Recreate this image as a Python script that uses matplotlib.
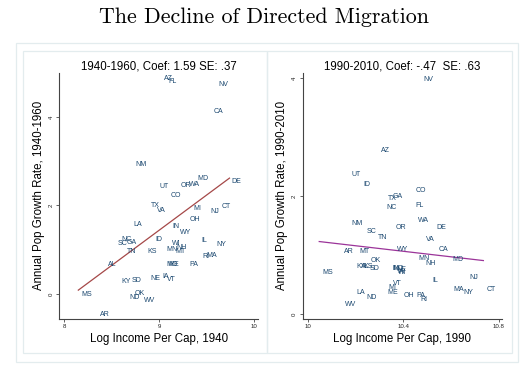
import numpy as np
import matplotlib.pyplot as plt
from matplotlib.patches import Rectangle

# --- datos ---
estados_40 = ['AZ', 'FL', 'NV', 'CA', 'NM', 'MD', 'DE', 'UT', 'OR', 'WA', 'CO', 'TX',
              'VA', 'MI', 'NJ', 'CT', 'LA', 'OH', 'IN', 'WY', 'ID', 'IL', 'NY', 'NC',
              'SC', 'GA', 'WI', 'NH', 'TN', 'KS', 'MN', 'MT', 'RI', 'MA', 'AL', 'PA',
              'MO', 'ME', 'KY', 'SD', 'NE', 'IA', 'VT', 'MS', 'ND', 'OK', 'WV', 'AR']
ingreso_40 = [9.10, 9.14, 9.67, 9.62, 8.81, 9.46, 9.81, 9.05, 9.28, 9.37, 9.18, 8.96,
              9.02, 9.40, 9.59, 9.71, 8.77, 9.38, 9.18, 9.28, 9.00, 9.48, 9.65, 8.66,
              8.61, 8.71, 9.18, 9.24, 8.71, 8.93, 9.14, 9.22, 9.49, 9.55, 8.51, 9.36,
              9.14, 9.15, 8.65, 8.76, 8.96, 9.07, 9.13, 8.24, 8.74, 8.80, 8.90, 8.43]
crec_40 = [4.87, 4.80, 4.74, 4.13, 2.93, 2.62, 2.55, 2.43, 2.45, 2.47, 2.23, 2.00,
           1.89, 1.93, 1.87, 1.98, 1.57, 1.68, 1.53, 1.39, 1.24, 1.20, 1.12, 1.23,
           1.14, 1.16, 1.14, 1.06, 0.97, 0.97, 1.00, 0.97, 0.85, 0.87, 0.67, 0.67,
           0.67, 0.67, 0.29, 0.31, 0.35, 0.40, 0.33, 0.00, -0.07, 0.01, -0.15, -0.46]

estados_90 = ['NV', 'AZ', 'UT', 'ID', 'CO', 'GA', 'TX', 'NC', 'FL', 'NM', 'WA', 'SC',
              'OR', 'DE', 'TN', 'VA', 'AR', 'MT', 'WY', 'CA', 'MN', 'MD', 'NH', 'OK',
              'KY', 'KS', 'AL', 'SD', 'IN', 'MO', 'NE', 'WI', 'IA', 'MS', 'NJ', 'IL',
              'VT', 'MI', 'ME', 'LA', 'ND', 'OH', 'PA', 'RI', 'MA', 'NY', 'CT', 'WV']
ingreso_90 = [10.504, 10.326, 10.204, 10.248, 10.472, 10.375, 10.354, 10.352, 10.469, 10.206, 10.486, 10.269,
              10.392, 10.560, 10.314, 10.515, 10.174, 10.239, 10.396, 10.567, 10.488, 10.629, 10.515, 10.283,
              10.225, 10.252, 10.242, 10.280, 10.368, 10.380, 10.390, 10.395, 10.390, 10.084, 10.695, 10.535,
              10.375, 10.355, 10.355, 10.223, 10.269, 10.424, 10.473, 10.486, 10.632, 10.670, 10.768, 10.178]
crec_90 = [3.98, 2.77, 2.36, 2.20, 2.10, 1.99, 1.96, 1.81, 1.84, 1.53, 1.58, 1.40,
           1.47, 1.47, 1.30, 1.27, 1.06, 1.06, 1.09, 1.09, 0.94, 0.93, 0.85, 0.90,
           0.81, 0.81, 0.80, 0.77, 0.77, 0.77, 0.75, 0.71, 0.73, 0.70, 0.62, 0.57,
           0.51, 0.45, 0.37, 0.37, 0.28, 0.31, 0.32, 0.24, 0.42, 0.37, 0.41, 0.16]

# rectas de ajuste: (x inicial, y inicial, pendiente, x final)
ajuste_40 = (8.15, 0.09, 1.59, 9.74)
ajuste_90 = (10.048, 1.23, -0.47, 10.735)

titulos = ['1940-1960, Coef: 1.59 SE: .37', '1990-2010, Coef: -.47  SE: .63']
xlabels = ['Log Income Per Cap, 1940', 'Log Income Per Cap, 1990']
ylabels = ['Annual Pop Growth Rate, 1940-1960', 'Annual Pop Growth Rate, 1990-2010']
xticks_40 = [8, 9, 10]
xticks_90 = [10, 10.4, 10.8]
yticks = [0, 2, 4]

plt.rcParams['font.family'] = ['Liberation Sans', 'DejaVu Sans']

fig = plt.figure(figsize=(5.28, 3.67), dpi=100)

# marcos claros alrededor de los paneles
borde = '#e3ecee'
fig.patches.append(Rectangle((16/528, 5/367), 502/528, 319/367, transform=fig.transFigure,
                             fill=False, edgecolor=borde, linewidth=0.9))
fig.patches.append(Rectangle((23/528, 14/367), 244/528, 302/367, transform=fig.transFigure,
                             fill=False, edgecolor=borde, linewidth=0.9))
fig.patches.append(Rectangle((267/528, 14/367), 245/528, 302/367, transform=fig.transFigure,
                             fill=False, edgecolor=borde, linewidth=0.9))

fig.text(0.5, 1 - 17/367, 'The Decline of Directed Migration', ha='center', va='center',
         fontsize=15.8, fontfamily='cmr10')

ax1 = fig.add_axes([59.3/528, 48.5/367, 198.7/528, 245.5/367])
ax2 = fig.add_axes([302.5/528, 48.5/367, 199.5/528, 245.5/367])

paneles = [
    (ax1, estados_40, ingreso_40, crec_40, ajuste_40, '#a54848', xticks_40, ['8', '9', '10'], (7.95, 10.04), (-0.55, 4.99)),
    (ax2, estados_90, ingreso_90, crec_90, ajuste_90, '#9b3499', xticks_90, ['10', '10.4', '10.8'], (9.978, 10.813), (-0.076, 4.09)),
]

for i, (ax, est, xs, ys, aj, col, xt, xtl, xl, yl) in enumerate(paneles):
    for s, x, y in zip(est, xs, ys):
        ax.text(x, y, s, ha='center', va='center', fontsize=5.0, color='#1a476f')
    x0, y0, m, x1 = aj
    xx = np.array([x0, x1])
    ax.plot(xx, y0 + m * (xx - x0), color=col, linewidth=0.9)

    ax.set_xlim(*xl)
    ax.set_ylim(*yl)
    ax.set_xticks(xt)
    ax.set_xticklabels(xtl)
    ax.set_yticks(yticks)
    ax.set_yticklabels([str(t) for t in yticks], rotation=90, va='center')
    ax.tick_params(labelsize=4.4, length=2.5, width=0.5, pad=1.5, colors='#222222')
    ax.spines['top'].set_visible(False)
    ax.spines['right'].set_visible(False)
    for sp in ['left', 'bottom']:
        ax.spines[sp].set_linewidth(0.8)
        ax.spines[sp].set_color('#444444')
    ax.set_title(titulos[i], fontsize=8.3, pad=2.5)
    ax.set_xlabel(xlabels[i], fontsize=8.3, labelpad=2.5)
    ax.set_ylabel(ylabels[i], fontsize=8.3, labelpad=2.5)
    ax.patch.set_alpha(0)

fig.savefig('out.png', dpi=100)
